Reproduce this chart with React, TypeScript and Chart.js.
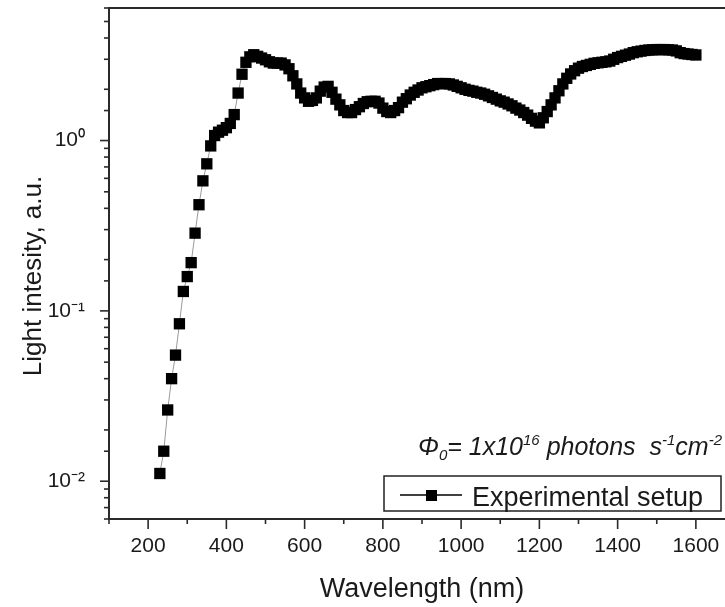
import React, { useEffect, useRef } from "react";
import { Chart, registerables } from "chart.js";

Chart.register(...registerables);

const wavelengths = [
  230, 240, 250, 260, 270, 280, 290, 300, 310, 320,
  330, 340, 350, 360, 370, 380, 390, 400, 410, 420,
  430, 440, 450, 460, 470, 480, 490, 500, 510, 520,
  530, 540, 550, 560, 570, 580, 590, 600, 610, 620,
  630, 640, 650, 660, 670, 680, 690, 700, 710, 720,
  730, 740, 750, 760, 770, 780, 790, 800, 810, 820,
  830, 840, 850, 860, 870, 880, 890, 900, 910, 920,
  930, 940, 950, 960, 970, 980, 990, 1000, 1010, 1020,
  1030, 1040, 1050, 1060, 1070, 1080, 1090, 1100, 1110, 1120,
  1130, 1140, 1150, 1160, 1170, 1180, 1190, 1200, 1210, 1220,
  1230, 1240, 1250, 1260, 1270, 1280, 1290, 1300, 1310, 1320,
  1330, 1340, 1350, 1360, 1370, 1380, 1390, 1400, 1410, 1420,
  1430, 1440, 1450, 1460, 1470, 1480, 1490, 1500, 1510, 1520,
  1530, 1540, 1550, 1560, 1570, 1580, 1590, 1600,
];

const intensity = [
  0.0111, 0.015, 0.0262, 0.04, 0.055, 0.084, 0.13, 0.159, 0.192, 0.286,
  0.42, 0.58, 0.73, 0.93, 1.07, 1.12, 1.15, 1.19, 1.26, 1.42,
  1.9, 2.45, 2.88, 3.1, 3.19, 3.12, 3.05, 2.98, 2.9, 2.85,
  2.85, 2.85, 2.78, 2.64, 2.4, 2.15, 1.9, 1.78, 1.7, 1.72,
  1.78, 1.95, 2.06, 2.08, 1.92, 1.75, 1.62, 1.5, 1.46, 1.46,
  1.52, 1.58, 1.65, 1.69, 1.7, 1.7, 1.66, 1.55, 1.48, 1.46,
  1.5, 1.56, 1.68, 1.76, 1.85, 1.92, 1.98, 2.04, 2.07, 2.1,
  2.13, 2.16, 2.16, 2.16, 2.15, 2.12, 2.08, 2.04, 2.0, 1.97,
  1.95, 1.92, 1.9, 1.87, 1.83, 1.79, 1.75, 1.71, 1.68, 1.64,
  1.6, 1.55, 1.51, 1.46, 1.41, 1.35, 1.3, 1.27, 1.36, 1.48,
  1.62, 1.78, 1.96, 2.15, 2.32, 2.46, 2.57, 2.66, 2.72, 2.76,
  2.8, 2.84, 2.86, 2.88, 2.9, 2.93, 3.0, 3.07, 3.12, 3.17,
  3.22, 3.28, 3.32, 3.35, 3.38, 3.4, 3.41, 3.42, 3.42, 3.42,
  3.41, 3.4, 3.36, 3.28, 3.24, 3.22, 3.2, 3.18,
];

const X_MIN = 100;
const X_MAX = 1700;
const X_STEP = 100;
const Y_MIN = 0.006;
const Y_MAX = 6;

const xTitle = "Wavelength (nm)";
const yTitle = "Light intesity, a.u.";
const seriesLabel = "Experimental setup";
const yTickLabels: Record<string, string> = { "-2": "10⁻²", "-1": "10⁻¹", "0": "10⁰" };

const FONT = "'Liberation Sans', Arial, Helvetica, sans-serif";
const AXIS = "#2a2a2a";

const decorPlugin = {
  id: "decor",
  afterDraw(chart: any) {
    const { ctx, chartArea } = chart;
    const xs = chart.scales.x;
    const ys = chart.scales.y;
    ctx.save();
    // top frame line
    ctx.strokeStyle = AXIS;
    ctx.lineWidth = 2;
    ctx.beginPath();
    ctx.moveTo(chartArea.left - 1, chartArea.top);
    ctx.lineTo(chartArea.right, chartArea.top);
    ctx.stroke();

    // ticks
    ctx.lineWidth = 1.6;
    xs.ticks.forEach((t: any) => {
      const px = xs.getPixelForValue(t.value);
      const len = t.value % 200 === 0 ? 10 : 5;
      ctx.beginPath();
      ctx.moveTo(px, chartArea.bottom);
      ctx.lineTo(px, chartArea.bottom + len);
      ctx.stroke();
    });
    ys.ticks.forEach((t: any) => {
      const py = ys.getPixelForValue(t.value);
      const lg = Math.log10(t.value);
      const major = Math.abs(lg - Math.round(lg)) < 1e-6;
      const len = major ? 9 : 5;
      ctx.beginPath();
      ctx.moveTo(chartArea.left - len, py);
      ctx.lineTo(chartArea.left, py);
      ctx.stroke();
    });

    // axis titles
    ctx.fillStyle = "#1a1a1a";
    ctx.font = `27px ${FONT}`;
    ctx.textAlign = "center";
    ctx.textBaseline = "alphabetic";
    ctx.fillText(xTitle, 422, 597);

    ctx.save();
    ctx.translate(41, 276);
    ctx.rotate(-Math.PI / 2);
    ctx.font = `26px ${FONT}`;
    ctx.textAlign = "center";
    ctx.textBaseline = "alphabetic";
    ctx.fillText(yTitle, 0, 0);
    ctx.restore();

    // annotation (right aligned)
    const big = `italic 25px ${FONT}`;
    const small = `italic 15px ${FONT}`;
    const parts: [string, string, number][] = [
      ["Φ", big, 0],
      ["0", small, 5],
      ["= 1x10", big, 0],
      ["16", small, -10],
      [" photons  s", big, 0],
      ["-1", small, -10],
      ["cm", big, 0],
      ["-2", small, -10],
    ];
    let total = 0;
    parts.forEach(([s, f]) => {
      ctx.font = f;
      total += ctx.measureText(s).width;
    });
    let cx = 722 - total;
    const baseY = 455;
    ctx.textAlign = "left";
    parts.forEach(([s, f, dy]) => {
      ctx.font = f;
      ctx.fillText(s, cx, baseY + dy);
      cx += ctx.measureText(s).width;
    });

    // legend box
    ctx.strokeStyle = "#222";
    ctx.lineWidth = 1.5;
    ctx.fillStyle = "#fff";
    ctx.beginPath();
    ctx.rect(384, 476, 337, 35);
    ctx.fill();
    ctx.stroke();
    ctx.strokeStyle = "#000";
    ctx.lineWidth = 1.5;
    ctx.beginPath();
    ctx.moveTo(400, 495);
    ctx.lineTo(462, 495);
    ctx.stroke();
    ctx.fillStyle = "#000";
    ctx.fillRect(426, 490, 11, 11);
    ctx.fillStyle = "#1a1a1a";
    ctx.font = `27px ${FONT}`;
    ctx.textBaseline = "alphabetic";
    ctx.fillText(seriesLabel, 472, 506);
    ctx.restore();
  },
};

export default function App() {
  const ref = useRef<HTMLCanvasElement | null>(null);

  useEffect(() => {
    if (!ref.current) return;
    const points = wavelengths.map((w, i) => ({ x: w, y: intensity[i] }));
    const chart = new Chart(ref.current, {
      type: "line",
      data: {
        datasets: [
          {
            label: seriesLabel,
            data: points,
            borderColor: "#9a9a9a",
            borderWidth: 1,
            pointStyle: "rect",
            pointRadius: 8,
            pointBorderWidth: 0,
            pointBackgroundColor: "#000",
            pointBorderColor: "#000",
            tension: 0,
          },
        ],
      },
      options: {
        animation: false,
        responsive: false,
        devicePixelRatio: 1,
        layout: { padding: { left: 0, top: 5, right: 25, bottom: 0 } },
        plugins: { legend: { display: false }, tooltip: { enabled: false } },
        scales: {
          x: {
            type: "linear",
            min: X_MIN,
            max: X_MAX,
            grid: { display: true, drawOnChartArea: false, drawTicks: false },
            border: { display: true, color: AXIS, width: 2 },
            ticks: {
              stepSize: X_STEP,
              autoSkip: false,
              maxRotation: 0,
              padding: 15,
              color: "#1a1a1a",
              font: { family: FONT, size: 21 },
              callback: (v: any) => (Number(v) % 200 === 0 ? String(v) : ""),
            },
            afterFit: (s: any) => {
              s.height = 88;
              s.paddingLeft = 0;
              s.paddingRight = 0;
            },
          },
          y: {
            type: "logarithmic",
            min: Y_MIN,
            max: Y_MAX,
            grid: { display: true, drawOnChartArea: false, drawTicks: false },
            border: { display: true, color: AXIS, width: 2 },
            ticks: {
              autoSkip: false,
              padding: 24,
              color: "#1a1a1a",
              font: { family: FONT, size: 21 },
              callback: (v: any) => {
                const lg = Math.log10(Number(v));
                const r = Math.round(lg);
                return Math.abs(lg - r) < 1e-6 ? yTickLabels[String(r)] ?? "" : "";
              },
            },
            afterFit: (s: any) => {
              s.width = 109;
              s.paddingTop = 0;
              s.paddingBottom = 0;
            },
          },
        },
      },
      plugins: [decorPlugin],
    });
    return () => chart.destroy();
  }, []);

  return (
    <div
      style={{
        position: "fixed",
        left: 0,
        top: 0,
        width: 725,
        height: 607,
        overflow: "hidden",
        background: "#fff",
      }}
    >
      <canvas ref={ref} width={760} height={607} style={{ display: "block" }} />
    </div>
  );
}
